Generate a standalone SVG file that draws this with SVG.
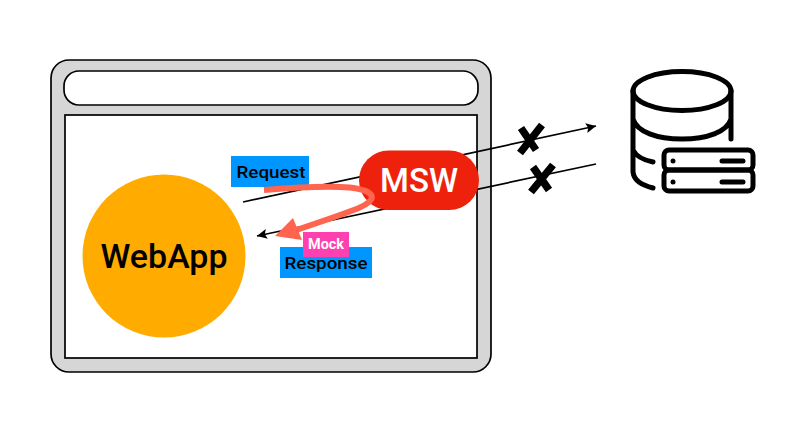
<svg xmlns="http://www.w3.org/2000/svg" width="800" height="421" viewBox="0 0 800 421">
<style>
text{font-family:Roboto,"Liberation Sans",Arial,sans-serif;text-anchor:middle}
.box{stroke:#000;stroke-width:1.7}
.line{fill:none;stroke:#000;stroke-width:1.7}
.x{fill:none;stroke:#000;stroke-width:7.5}
.db{fill:none;stroke:#000;stroke-width:5;stroke-linecap:round;stroke-linejoin:round}
.lbl{font-size:16.500px;font-weight:500;fill:#000}
</style>
<defs>
<marker id="arrow" markerUnits="userSpaceOnUse" markerWidth="12" markerHeight="10" refX="10" refY="5" orient="auto"><path d="M0 0L10 5L0 10L2 5Z" fill="#000"/></marker>
</defs>
<rect width="800" height="421" fill="#fff"/>
<g id="browser">
<rect class="box" x="51" y="60" width="440" height="312" rx="18" fill="#d6d6d6"/>
<rect class="box" x="64" y="71" width="414" height="34" rx="15" fill="#fff"/>
<rect class="box" x="65" y="115" width="412" height="243" fill="#fff"/>
</g>
<g id="connectors">
<path class="line" d="M243 202L596 126" marker-end="url(#arrow)"/>
<path class="line" d="M596 164L257 236" marker-end="url(#arrow)"/>
</g>
<g id="webapp">
<circle cx="164" cy="256" r="81.500" fill="#ffab00"/>
<text x="164" y="268" font-size="33" font-weight="500" fill="#000" textLength="127" lengthAdjust="spacingAndGlyphs">WebApp</text>
</g>
<g id="msw">
<rect x="359" y="150.500" width="120" height="59.500" rx="29.700" fill="#ee220c"/>
<text x="419" y="192" font-size="33" font-weight="500" fill="#fff" textLength="78" lengthAdjust="spacingAndGlyphs">MSW</text>
</g>
<g id="request">
<rect x="231" y="156" width="78" height="31" fill="#0096ff"/>
<text class="lbl" x="271" y="178" textLength="69" lengthAdjust="spacingAndGlyphs">Request</text>
</g>
<g id="response">
<rect x="280" y="247" width="92" height="31" fill="#0096ff"/>
<text class="lbl" x="326" y="269" textLength="83" lengthAdjust="spacingAndGlyphs">Response</text>
</g>
<g id="mock-arrow">
<path d="M264 190C300 187 345 184 363 190C378 195 374 203 351 211C330 219 310 225 291 232" fill="none" stroke="#ff644e" stroke-width="6"/>
<path d="M275 236L293 218L302 240Z" fill="#ff644e"/>
</g>
<g id="mock">
<rect x="303" y="232" width="46" height="25" fill="#ff40b0"/>
<text x="326" y="249" font-size="14" font-weight="700" fill="#fff" textLength="36" lengthAdjust="spacingAndGlyphs">Mock</text>
</g>
<g id="blocked-1">
<path class="x" d="M542 125L520 153M521 128L536 150"/>
</g>
<g id="blocked-2">
<path class="x" d="M553 165L531 192M533 167L549 190"/>
</g>
<g id="database">
<ellipse class="db" cx="682" cy="91" rx="49" ry="19.500"/>
<path class="db" d="M633 91V172C634 181 642 185 653 188M731 91V139M633 119C637 132 657 139 682 139C707 139 727 132 731 119M633 150C636 156 643 160 653 162"/>
<rect class="db" x="664" y="150" width="89" height="20" rx="5"/>
<rect class="db" x="664" y="170" width="89" height="21" rx="5"/>
<path class="db" d="M722 161H743M722 182H743"/>
<circle cx="673" cy="161" r="2.500" fill="#000"/>
<circle cx="673" cy="182" r="2.500" fill="#000"/>
</g>
</svg>
